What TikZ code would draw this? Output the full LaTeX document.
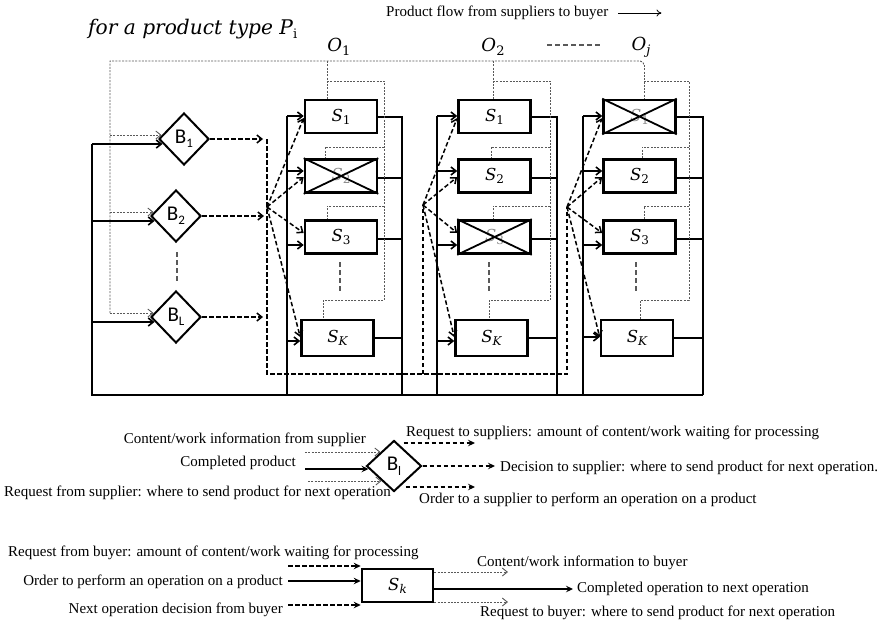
\documentclass[tikz,border=0pt]{standalone}
\usepackage{fontspec}
\setmainfont{Liberation Serif}
\newfontfamily\calib{Carlito}
\newfontfamily\dvs{DejaVu Serif}
\newfontfamily\dvsi{DejaVu Serif Italic}
\usetikzlibrary{arrows.meta,shapes.geometric,calc}
\definecolor{dotgray}{gray}{0.35}
\definecolor{xgray}{gray}{0.55}
\newcommand{\Blab}[1]{{\calib B\raisebox{-0.45ex}{\fontsize{13}{13}\selectfont #1}}}
\newcommand{\Slab}[1]{{\dvsi S}\raisebox{-0.4ex}{\fontsize{12}{12}\selectfont\dvs #1}}
\newcommand{\Silab}[1]{{\dvsi S}\raisebox{-0.4ex}{\fontsize{12}{12}\selectfont\dvsi #1}}
\begin{document}
\begin{tikzpicture}[x=1pt,y=-1pt,
 sl/.style={line width=1.6pt},
 gd/.style={draw=dotgray,line width=0.9pt,dash pattern=on 2pt off 1.3pt},
 bd/.style={line width=1.5pt,dash pattern=on 4.5pt off 2.5pt},
 md/.style={draw=dotgray,line width=1.1pt,dash pattern=on 5pt off 3pt},
 opa/.style={-{Straight Barb[length=5pt,width=8pt]}},
 sta/.style={-{Stealth[length=7pt,width=6.5pt,inset=2.5pt]}},
 sbox/.style={draw,line width=2.6pt,fill=white,minimum width=72pt,minimum height=33pt,inner sep=0pt,font=\fontsize{16.5}{17}\selectfont},
 bdiam/.style={diamond,draw,line width=2pt,fill=white,minimum width=50pt,minimum height=52pt,inner sep=0pt,font=\fontsize{21}{21}\selectfont},
 lt/.style={font=\fontsize{15}{16}\selectfont,inner sep=0pt},
 olab/.style={font=\fontsize{18}{18}\selectfont\dvsi,inner sep=0pt},
]
\useasboundingbox (0,0) rectangle (880,624);

% title and header
\node[anchor=west,inner sep=0pt] (title) at (88,29) {\resizebox{209pt}{!}{\fontsize{20}{20}\selectfont\dvsi for a product type P\raisebox{-0.4ex}{\fontsize{13}{13}\selectfont\dvs i}}};
\node[lt,anchor=west] (pf) at (386,13) {Product flow from suppliers to buyer};
\draw[-{To[length=5pt,width=7pt]},line width=0.8pt] ($(pf.east)+(10,0)$) -- ++(43,0);
\node[olab] (o1) at (339,47) {O\raisebox{-0.4ex}{\fontsize{13}{13}\selectfont\dvs 1}};
\node[olab] (o2) at (493,47) {O\raisebox{-0.4ex}{\fontsize{13}{13}\selectfont\dvs 2}};
\node[olab] (oj) at (641,47) {O\raisebox{-0.4ex}{\fontsize{13}{13}\selectfont j}};
\draw[md] (547,45) -- (602,45);

% buyers
\node[bdiam] (b1) at (184,139) {\Blab{1}};
\node[bdiam] (b2) at (176,216) {\Blab{2}};
\node[bdiam] (bL) at (176,317) {\Blab{L}};
\draw[md] (177,252) -- (177,283);

% columns
\foreach \cl/\xin/\xout/\xbx/\xkx/\fxx/\fyy/\stx/\sty/\trx/\mdx/\ca/\cb/\cd/\kyy in {
 A/287/402/341/337.5/267/207/327/61/384/340/black/xgray/black/341,
 B/437/557/494.5/491.5/423/205/493/61/550/489/black/black/xgray/341,
 J/583/703/639.5/637/567/207/644/65/689/636/xgray/black/black/337}{
 \node[sbox,text=\ca] (s\cl1) at (\xbx,116.5) {\Slab{1}};
 \node[sbox,text=\cb] (s\cl2) at (\xbx,176) {\Slab{2}};
 \node[sbox,text=\cd] (s\cl3) at (\xbx,237) {\Slab{3}};
 \node[sbox,minimum height=36pt] (s\cl K) at (\xkx,338) {\Silab{K}};
 \coordinate (f\cl) at (\fxx,\fyy);
 % product in
 \draw[sl] (\xin,116) -- (\xin,395);
 \draw[sl,opa] (\xin,116) -- (s\cl1.west |- 0,116);
 \draw[sl,opa] (\xin,171) -- (s\cl2.west |- 0,171);
 \draw[sl,opa] (\xin,245) -- (s\cl3.west |- 0,245);
 \draw[sl,opa] (\xin,\kyy) -- (s\cl K.west |- 0,\kyy);
 % product out
 \draw[sl] (s\cl1.east |- 0,117) -- (\xout,117) -- (\xout,395);
 \draw[sl] (s\cl2.east |- 0,178) -- (\xout,178);
 \draw[sl] (s\cl3.east |- 0,239) -- (\xout,239);
 \draw[sl] (s\cl K.east |- 0,338) -- (\xout,338);
 % orders from buyers
 \draw[bd,opa] (f\cl) -- (s\cl1.west |- 0,118);
 \draw[bd,opa] (f\cl) -- (s\cl2.west |- 0,177);
 \draw[bd,opa] (f\cl) -- (s\cl3.west |- 0,233);
 \draw[bd,opa] (f\cl) -- (s\cl K.west |- 0,337);
 % information lines
 \draw[gd] (\stx,\sty) -- (s\cl1.north -| \stx,0);
 \draw[gd] (\stx,81) -- (\trx,81) -- (\trx,300) -- (\stx-4,300) -- (s\cl K.north -| \stx-4,0);
 \draw[gd] (\trx,147) -- (\stx-2,147) -- (s\cl2.north -| \stx-2,0);
 \draw[gd] (\trx,206) -- (\stx,206) -- (s\cl3.north -| \stx,0);
 \draw[md] (\mdx,262) -- (\mdx,293);
}
\foreach \n in {sA2,sB3,sJ1}
 \draw[line width=1.8pt] (\n.north west) -- (\n.south east) (\n.south west) -- (\n.north east);

% top information line
\draw[gd] (110,313) -- (110,61) -- (640,61) to[out=0,in=90] (644,65);
\draw[gd,opa] (110,135) -- ($(b1.west)+(3.5,-4)$);
\draw[gd,opa] (110,212) -- ($(b2.west)+(3.5,-4)$);
\draw[gd,opa] (110,313) -- ($(bL.west)+(3.5,-4)$);

% product return line
\draw[sl] (92,144) -- (92,395) -- (703,395);
\draw[sl,opa] (92,144) -- ($(b1.west)+(4.5,5)$);
\draw[sl,opa] (92,221) -- ($(b2.west)+(4.5,5)$);
\draw[sl,opa] (92,322) -- ($(bL.west)+(4.5,5)$);

% buyer outputs
\draw[bd,opa] (b1.east) -- (263,139);
\draw[bd,opa] (b2.east) -- (264,216);
\draw[bd,opa] (bL.east) -- (263,317);
\draw[bd] (267,139) -- (267,374) -- (567,374) -- (fJ);
\draw[bd] (423,374) -- (fB);

% legend 1
\node[bdiam,minimum width=55pt,minimum height=51pt] (bl) at (394,466) {\Blab{l}};
\node[lt,anchor=east] (t1) at (366,440) {Content/work information from supplier};
\node[lt,anchor=east] (t2) at (296,463) {Completed product};
\node[lt,anchor=west] (t3) at (4,493) {Request from supplier: where to send product for next operation};
\draw[gd,opa] (305,452) -- ($(bl.west)+(15,-14)$);
\draw[line width=2.2pt,sta] (305,469) -- ($(bl.west)+(3,3)$);
\draw[gd,opa] (308,481) -- ($(bl.west)+(16,15)$);
\draw[bd,sta] ($(bl.east)+(-19,-23)$) -- (475,443);
\draw[bd,sta] (bl.east) -- (495,466);
\draw[bd,sta] ($(bl.east)+(-17,21)$) -- (475,487);
\node[lt,anchor=west] (t4) at (406,433) {Request to suppliers: amount of content/work waiting for processing};
\node[lt,anchor=west] (t5) at (500,468) {Decision to supplier: where to send product for next operation.};
\node[lt,anchor=west] (t6) at (419,500) {Order to a supplier to perform an operation on a product};

% legend 2
\node[sbox,minimum width=71pt] (sk) at (397.5,585.5) {\Silab{k}};
\node[lt,anchor=west] (t7) at (8,553) {Request from buyer: amount of content/work waiting for processing};
\node[lt,anchor=east] (t8) at (283,582) {Order to perform an operation on a product};
\node[lt,anchor=east] (t9) at (283,610) {Next operation decision from buyer};
\draw[bd,sta] (288,566) -- (sk.west |- 0,566);
\draw[line width=2.2pt,sta] (288,581) -- (sk.west |- 0,581);
\draw[bd,sta] (288,605) -- (sk.west |- 0,605);
\draw[gd,opa] (sk.east |- 0,572) -- (508,572);
\draw[line width=2.2pt,sta] (sk.east |- 0,589) -- (573,589);
\draw[gd,opa] (sk.east |- 0,602) -- (508,602);
\node[lt,anchor=west] (t10) at (477,563) {Content/work information to buyer};
\node[lt,anchor=west] (t11) at (577,589) {Completed operation to next operation};
\node[lt,anchor=west] (t12) at (480,613) {Request to buyer: where to send product for next operation};
\end{tikzpicture}
\end{document}
